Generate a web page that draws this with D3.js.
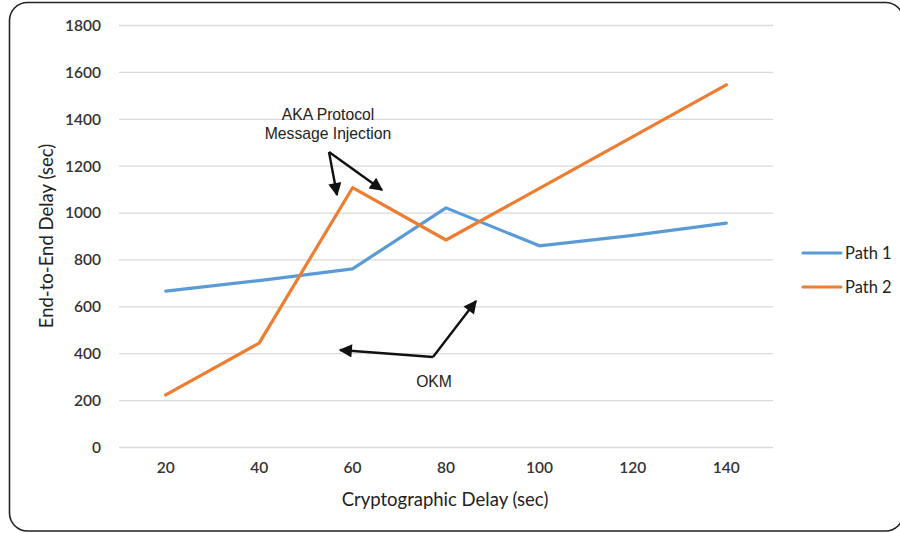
<!DOCTYPE html>
<html>
<head>
<meta charset="utf-8">
<script src="https://cdn.jsdelivr.net/npm/d3@7"></script>
<style>
  html, body { margin: 0; padding: 0; background: #fff; }
  svg { display: block; }
</style>
</head>
<body>
<svg id="chart" width="900" height="533"></svg>
<script>
// Cryptographic delay categories (sec)
const categories = [20, 40, 60, 80, 100, 120, 140];
// End-to-end delay (sec) per path
const path1 = [665, 710, 760, 1020, 858, 903, 955];
const path2 = [222, 443, 1106, 883, 1103, 1324, 1545];
const yTicks = [0, 200, 400, 600, 800, 1000, 1200, 1400, 1600, 1800];
const seriesNames = ["Path 1", "Path 2"];
const seriesColors = ["#5B9BD5", "#ED7D31"];

const svg = d3.select("#chart");
const labelFont = "Lato, 'Open Sans', sans-serif";
const noteFont = "'Liberation Sans', Arial, sans-serif";

// Outer frame
svg.append("rect")
  .attr("x", 9.5).attr("y", 2.5)
  .attr("width", 894).attr("height", 528.5)
  .attr("rx", 18).attr("ry", 18)
  .attr("fill", "#fff").attr("stroke", "#222").attr("stroke-width", 1.6);

const plot = { left: 119, right: 773, top: 25, bottom: 447 };

const x = d3.scaleBand().domain(categories).range([plot.left, plot.right]);
const y = d3.scaleLinear().domain([0, 1800]).range([plot.bottom, plot.top]);

// Horizontal gridlines
svg.append("g").selectAll("line").data(yTicks).join("line")
  .attr("x1", plot.left).attr("x2", plot.right)
  .attr("y1", d => y(d) + 0.5).attr("y2", d => y(d) + 0.5)
  .attr("stroke", "#d9d9d9").attr("stroke-width", 1.3);

// Y axis labels
const yAxis = d3.axisLeft(y).tickValues(yTicks).tickFormat(d3.format("d")).tickSize(0).tickPadding(0);
const gy = svg.append("g").attr("transform", `translate(${plot.left - 18},0)`).call(yAxis);
gy.select(".domain").remove();
gy.selectAll("text")
  .attr("font-family", labelFont).attr("font-size", 15.5).attr("font-weight", 600)
  .attr("fill", "#333").attr("dy", "0.35em");

// X axis labels
const xAxis = d3.axisBottom(x).tickSize(0).tickPadding(0);
const gx = svg.append("g").attr("transform", `translate(0,${plot.bottom + 14})`).call(xAxis);
gx.select(".domain").remove();
gx.selectAll("text")
  .attr("font-family", labelFont).attr("font-size", 15.5).attr("font-weight", 600)
  .attr("fill", "#333").attr("dy", "0.75em");

// Axis titles
svg.append("text")
  .attr("x", (plot.left + plot.right) / 2 - 1).attr("y", 506)
  .attr("text-anchor", "middle")
  .attr("font-family", labelFont).attr("font-size", 18.5)
  .attr("fill", "#222").text("Cryptographic Delay (sec)");

svg.append("text")
  .attr("transform", `translate(53,${(plot.top + plot.bottom) / 2}) rotate(-90)`)
  .attr("text-anchor", "middle")
  .attr("font-family", labelFont).attr("font-size", 18.5)
  .attr("fill", "#222").text("End-to-End  Delay (sec)");

// Series lines
const line = d3.line()
  .x((d, i) => x(categories[i]) + x.bandwidth() / 2)
  .y(d => y(d));

[path1, path2].forEach((vals, i) => {
  svg.append("path")
    .datum(vals)
    .attr("d", line)
    .attr("fill", "none")
    .attr("stroke", seriesColors[i])
    .attr("stroke-width", 3.2)
    .attr("stroke-linejoin", "round")
    .attr("stroke-linecap", "round");
});

// Legend
const legend = svg.append("g");
seriesNames.forEach((name, i) => {
  const ly = 253 + i * 34;
  legend.append("line")
    .attr("x1", 803).attr("x2", 841).attr("y1", ly).attr("y2", ly)
    .attr("stroke", seriesColors[i]).attr("stroke-width", 3.2)
    .attr("stroke-linecap", "round");
  legend.append("text")
    .attr("x", 845).attr("y", ly).attr("dy", "0.35em")
    .attr("font-family", labelFont).attr("font-size", 16.5)
    .attr("fill", "#222").text(name);
});

// Annotation arrows
const defs = svg.append("defs");
defs.append("marker")
  .attr("id", "arrowhead")
  .attr("viewBox", "0 0 10 10")
  .attr("refX", 9).attr("refY", 5)
  .attr("markerWidth", 7.5).attr("markerHeight", 5.5)
  .attr("orient", "auto")
  .attr("markerUnits", "strokeWidth")
  .append("path").attr("d", "M0,0 L10,5 L0,10 Z").attr("fill", "#111");

const arrows = [
  [[329, 152], [337, 195]],
  [[329, 152], [382, 190]],
  [[433, 357], [340, 350]],
  [[433, 357], [476, 301]]
];
arrows.forEach(([a, b]) => {
  svg.append("line")
    .attr("x1", a[0]).attr("y1", a[1]).attr("x2", b[0]).attr("y2", b[1])
    .attr("stroke", "#111").attr("stroke-width", 2.4)
    .attr("marker-end", "url(#arrowhead)");
});

// Annotation labels
const notes = [
  { x: 328, y: 120, t: "AKA Protocol" },
  { x: 328, y: 139, t: "Message Injection" },
  { x: 434, y: 387, t: "OKM" }
];
notes.forEach(n => {
  svg.append("text")
    .attr("x", n.x).attr("y", n.y).attr("text-anchor", "middle")
    .attr("font-family", noteFont).attr("font-size", 15.7)
    .attr("fill", "#222").text(n.t);
});
</script>
</body>
</html>
